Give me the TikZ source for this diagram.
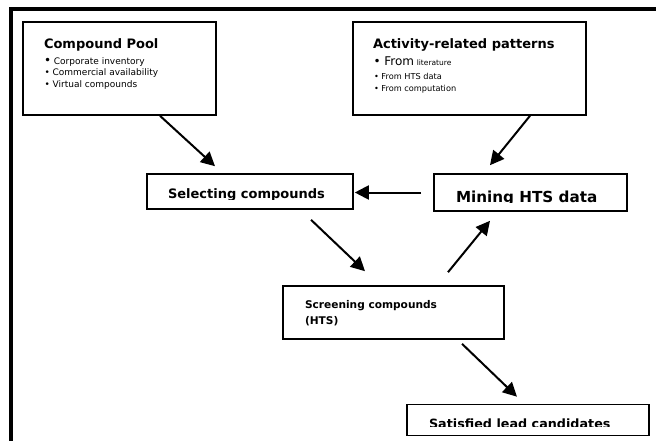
\documentclass[tikz,border=0pt]{standalone}
\usepackage{fontspec}
\setmainfont{DejaVu Sans}
\usetikzlibrary{arrows.meta,calc}
\newcommand{\fs}[1]{\fontsize{#1}{#1}\selectfont}
\begin{document}
\begin{tikzpicture}[x=1pt,y=-1pt,
  box/.style={draw=black,line width=1.6pt,rectangle,inner sep=0pt,fill=white},
  txt/.style={anchor=base west,inner sep=0pt,outer sep=0pt},
  arr/.style={line width=2pt,-{Triangle[length=14pt,width=14pt]}}]
\useasboundingbox (0,0) rectangle (656,441);
% frame
\draw[line width=4pt] (656,9) -- (10.5,9) -- (10.5,441);
% boxes
\node[box,minimum width=193pt,minimum height=93pt] (pool) at (119.5,68.5) {};
\node[box,minimum width=233pt,minimum height=93pt] (act) at (469.5,68.5) {};
\node[box,minimum width=206pt,minimum height=35pt] (sel) at (250,191.5) {};
\node[box,minimum width=193pt,minimum height=37pt] (mine) at (530.5,192.5) {};
\node[box,minimum width=221pt,minimum height=53pt] (scr) at (393.5,312.5) {};
\node[box,minimum width=242pt,minimum height=31pt] (sat) at (528,420) {};
% compound pool text
\node[txt,font=\bfseries\fs{13}] (poolt) at (44,48.3) {Compound Pool};
\node[txt,font=\fs{9}] (pool1) at (44,64.7) {{\fs{12}•} Corporate inventory};
\node[txt,font=\fs{9}] (pool2) at (44.5,76) {• Commercial availability};
\node[txt,font=\fs{9}] (pool3) at (44.5,87.3) {• Virtual compounds};
% activity text
\node[txt,font=\bfseries\fs{13}] (actt) at (373,48.3) {Activity-related patterns};
\node[txt,font=\fs{8.5}] (act1) at (373.5,65.7) {{\fs{12}• From} {\fs{7.5}literature}};
\node[txt,font=\fs{8.2}] (act2) at (374,79.5) {• From HTS data};
\node[txt,font=\fs{8.2}] (act3) at (374,92) {• From computation};
% screening text
\node[txt,font=\bfseries\fs{10.6}] (scrt) at (305,308.5) {Screening compounds};
\node[txt,font=\bfseries\fs{10.6}] (scrt2) at (305,324.3) {(HTS)};
% clipped texts
\begin{scope}
\clip (150,176) rectangle (350,199);
\node[txt,font=\bfseries\fs{13}] (selt) at (168,198.5) {Selecting compounds};
\end{scope}
\begin{scope}
\clip (437,176) rectangle (624,202.7);
\node[txt,font=\bfseries\fs{15.2}] (minet) at (456,202.2) {Mining HTS data};
\end{scope}
\begin{scope}
\clip (410,406) rectangle (646,426);
\node[txt,font=\bfseries\fs{12.75}] (satt) at (429,428) {Satisfied lead candidates};
\end{scope}
% connectors
\draw[arr] ($(pool.south)+(40.5,0)$) -- ($(sel.north)+(-35,-7)$);
\draw[arr] ($(act.south)+(60.5,0)$) -- ($(mine.north)+(-40.5,-8)$);
\draw[arr] ($(mine.west)+(-12,0)$) -- ($(sel.east |- mine.west)+(1,0)$);
\draw[arr] ($(sel.south)+(61,10)$) -- ($(scr.north)+(-28.5,-14)$);
\draw[arr] ($(scr.north)+(54.5,-13)$) -- ($(mine.south)+(-40.5,9)$);
\draw[arr] ($(scr.south)+(68.5,4)$) -- ($(sat.north)+(-11,-7)$);
\end{tikzpicture}
\end{document}
